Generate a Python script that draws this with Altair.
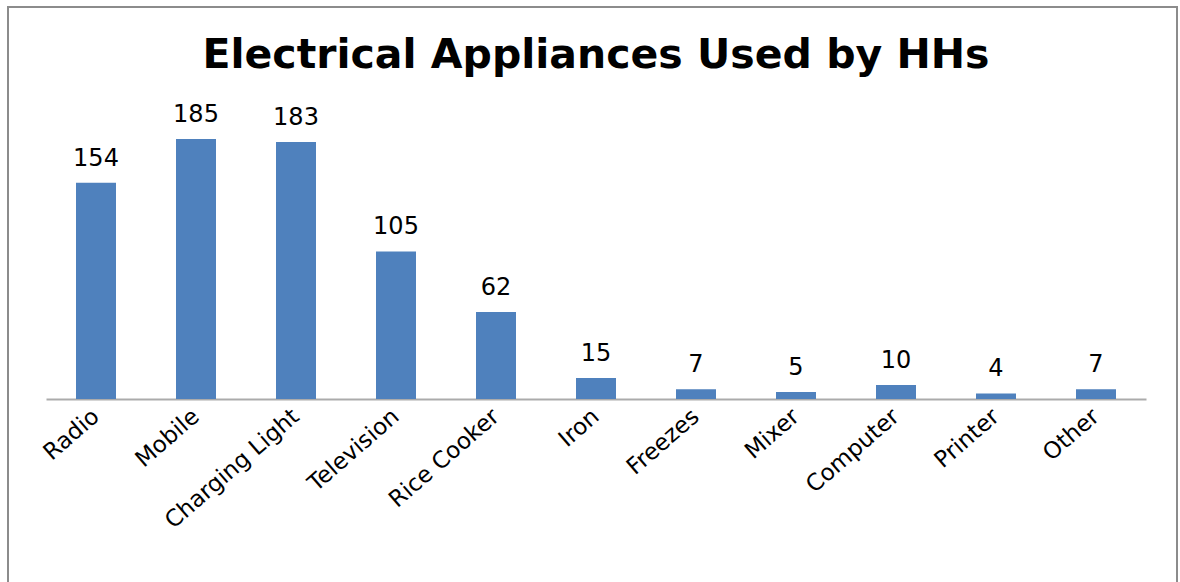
import altair as alt
import pandas as pd

categories = ["Radio", "Mobile", "Charging Light", "Television", "Rice Cooker",
              "Iron", "Freezes", "Mixer", "Computer", "Printer", "Other"]
counts = [154, 185, 183, 105, 62, 15, 7, 5, 10, 4, 7]

df = pd.DataFrame({"Appliance": categories, "Count": counts})

FONT = "DejaVu Sans"

x_enc = alt.X(
    "Appliance:N",
    sort=categories,
    scale=alt.Scale(paddingInner=0.6, paddingOuter=0.3),
    axis=alt.Axis(
        title=None, labelAngle=-41, labelAlign="right", labelBaseline="middle",
        labelFontSize=23, labelFont=FONT, labelColor="#000000",
        ticks=False, domainColor="#ABABAB", domainWidth=2, labelPadding=14,
        labelLimit=300,
    ),
)
y_enc = alt.Y("Count:Q", scale=alt.Scale(domain=[0, 200]), axis=None)

bars = alt.Chart(df).mark_bar(color="#4F81BD").encode(x=x_enc, y=y_enc)
labels = alt.Chart(df).mark_text(
    dy=-17, baseline="alphabetic", fontSize=24, font=FONT, color="#000000"
).encode(x=x_enc, y=y_enc, text="Count:Q")

frame = alt.Chart(df).mark_rect(
    fill=None, stroke="#8C8C8C", strokeWidth=2
).encode(
    x=alt.value(-38), x2=alt.value(1131), y=alt.value(-111), y2=alt.value(480)
)

chart = alt.layer(frame, bars, labels).properties(
    width=1100,
    height=281,
    background="white",
    title=alt.TitleParams(
        "Electrical Appliances Used by HHs",
        font=FONT, fontSize=41, fontWeight="bold", color="#000000",
        anchor="middle", offset=0, dy=71,
    ),
    autosize=alt.AutoSizeParams(type="none"),
    padding={"left": 46, "top": 118, "right": 34, "bottom": 183},
).configure_view(stroke=None)

chart.save("out.html", embed_options={"renderer": "svg", "actions": False})
